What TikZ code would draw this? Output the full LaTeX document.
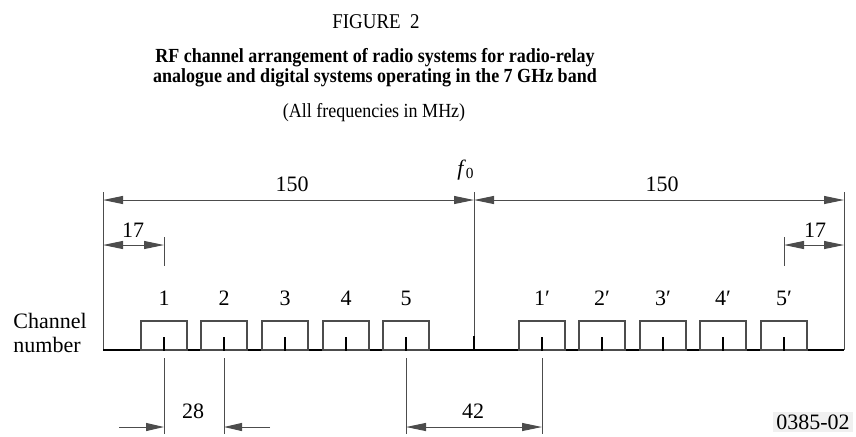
\documentclass[tikz,border=0pt]{standalone}
\usepackage{fontspec}
\setmainfont{Liberation Serif}
\newfontfamily\narrowfont[FakeStretch=0.9]{Liberation Serif}
\usetikzlibrary{arrows.meta}
\begin{document}
\begin{tikzpicture}[x=0.5pt, y=-0.5pt,
  dim/.style={draw=black!70, line width=0.5pt, {Triangle[length=10pt, width=4pt]}-{Triangle[length=10pt, width=4pt]}},
  dimin/.style={draw=black!70, line width=0.5pt, -{Triangle[length=9pt, width=4pt]}},
  guide/.style={draw=black!70, line width=0.5pt},
  chbox/.style={draw=black!70, line width=0.6pt, minimum width=23pt, minimum height=14.5pt, inner sep=0pt},
  tick/.style={line width=1pt},
  lbl/.style={font=\fontsize{11}{12}\selectfont, inner sep=0pt}]
  \useasboundingbox (0,0) rectangle (856,436);

  % title
  \node[font=\narrowfont\fontsize{10.5}{11}\selectfont] (fig) at (376,22) {FIGURE~~2};
  \node[font=\narrowfont\fontsize{10}{10}\selectfont\bfseries, align=center] (title) at (375,68)
    {RF channel arrangement of radio systems for radio-relay\\
     analogue and digital systems operating in the 7 GHz band};
  \node[font=\narrowfont\fontsize{10}{11}\selectfont] (unit) at (374,113) {(All frequencies in MHz)};

  % band edges and centre frequency
  \coordinate (L) at (103,350);
  \coordinate (F) at (474,350);
  \coordinate (R) at (844,350);
  \coordinate (Lt) at (103,192);
  \coordinate (Ft) at (474,192);
  \coordinate (Rt) at (844,192);
  \draw[guide] (Lt) -- (L);
  \draw[guide] (Ft) -- (F);
  \draw[guide] (Rt) -- (R);
  \draw[line width=1.1pt] (L) -- (R);
  \draw[tick] (F) -- ++(0,-14);
  \node[lbl] (f0) at (466,170) {\textit{f}\textsubscript{0}};

  % 150 MHz halves
  \coordinate (al) at (103,200);
  \coordinate (af) at (474,200);
  \coordinate (ar) at (844,200);
  \draw[dim] (al) -- (af);
  \draw[dim] (af) -- (ar);
  \node[lbl] (w1) at (292,184) {150};
  \node[lbl] (w2) at (662,184) {150};

  % channels
  \foreach \x [count=\i] in {164,224,285,346,406} {
    \node[chbox] (b\i) at (\x,335.5) {};
    \draw[tick] (b\i.south) -- ++(0,-14);
    \node[lbl] (n\i) at (\x,298) {\i};
  }
  \foreach \x [count=\i] in {542,602,663,723,784} {
    \node[chbox] (p\i) at (\x,335.5) {};
    \draw[tick] (p\i.south) -- ++(0,-14);
    \node[lbl] (m\i) at (\x,298) {\i′};
  }
  \node[lbl, anchor=west, align=left] (chan) at (13,333) {Channel\\number};

  % 17 MHz guard bands
  \coordinate (g1t) at (164,237);
  \coordinate (g1b) at (164,266);
  \coordinate (g2t) at (784,237);
  \coordinate (g2b) at (784,266);
  \draw[guide] (g1t) -- (g1b);
  \draw[guide] (g2t) -- (g2b);
  \coordinate (d1l) at (103,245);
  \coordinate (d1r) at (164,245);
  \coordinate (d2l) at (784,245);
  \coordinate (d2r) at (844,245);
  \draw[dim] (d1l) -- (d1r);
  \draw[dim] (d2l) -- (d2r);
  \node[lbl] (s1) at (133,230) {17};
  \node[lbl] (s2) at (815,230) {17};

  % 28 and 42 MHz spacings
  \foreach \x in {164,224,406,542} {
    \draw[guide] (\x,358) -- (\x,434);
  }
  \coordinate (e1) at (119,427);
  \coordinate (e2) at (164,427);
  \coordinate (e3) at (224,427);
  \coordinate (e4) at (270,427);
  \coordinate (e5) at (406,427);
  \coordinate (e6) at (542,427);
  \draw[dimin] (e1) -- (e2);
  \draw[dimin] (e4) -- (e3);
  \draw[dim] (e5) -- (e6);
  \node[lbl] (sp28) at (193,411) {28};
  \node[lbl] (sp42) at (473,411) {42};

  \node[lbl, fill=black!6, inner sep=1.5pt] (ref) at (813,422) {0385-02};
\end{tikzpicture}
\end{document}
